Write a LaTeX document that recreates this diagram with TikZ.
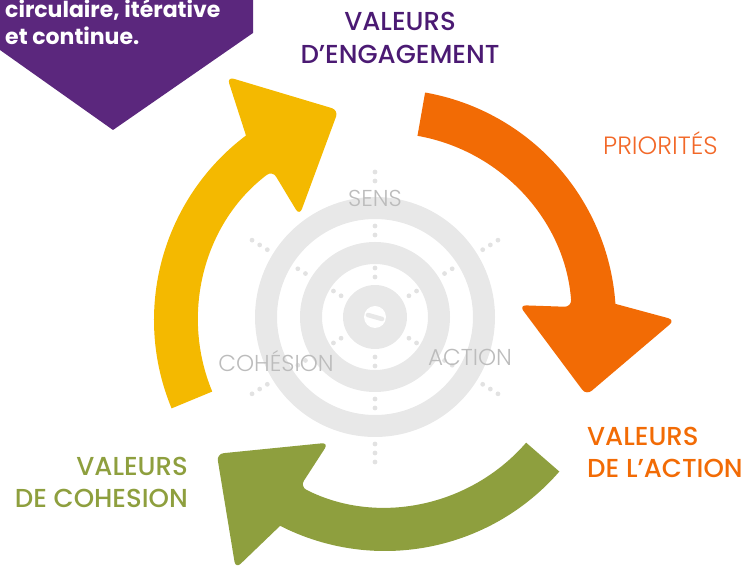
\documentclass[tikz,border=0pt]{standalone}
\usepackage{fontspec}
\setmainfont{Poppins}
\newfontfamily\popmedium{Poppins Medium}
\newfontfamily\poplight{Poppins Light}
\usetikzlibrary{positioning}

\definecolor{bannerpurple}{RGB}{91,39,125}
\definecolor{engagepurple}{RGB}{75,26,115}
\definecolor{cycleyellow}{RGB}{244,185,0}
\definecolor{cycleorange}{RGB}{242,107,5}
\definecolor{prioorange}{RGB}{242,104,40}
\definecolor{cyclegreen}{RGB}{142,159,62}
\definecolor{ringgray}{RGB}{232,232,232}
\definecolor{dotgray}{RGB}{226,226,226}
\definecolor{textgray}{RGB}{188,188,188}

\tikzset{
  valeurs/.style={font=\popmedium\fontsize{26}{32}\selectfont, inner sep=0pt, text=#1},
  pillar/.style={font=\poplight\fontsize{23}{27}\selectfont, inner sep=0pt, text=textgray},
  ring/.style={draw=ringgray, line width=22},
  tinydot/.style={fill=dotgray},
}

% thick arc arrow: colour, tail angle, end of shaft
\newcommand{\cyclearrow}[3]{%
  \fill[#1] (#2:231) arc[start angle=#2, end angle=#3, radius=231]
    [rounded corners=7] -- ({#3-4}:290) -- ({#3-24.5}:215) -- ({#3+2.3}:135)
    -- (#3:187) [sharp corners] arc[start angle=#3, end angle=#2, radius=187] -- cycle;
}

\begin{document}
\begin{tikzpicture}[x=1pt,y=1pt]
\useasboundingbox (0,0) rectangle (745,570);
\clip (0,0) rectangle (745,570);

% target
\begin{scope}[shift={(375,253)}]
\draw[ring] (0,0) circle (109);
\draw[ring] (0,0) circle (64);
\fill[ringgray] (0,0) circle (32);
\fill[white] (0,0) circle (11);
\draw[ringgray, line width=4.5, line cap=round] (-7,2) -- (7,-2);
\foreach \a in {32,148,212,270,328}
  \foreach \r in {40,49,82,91,127,136,145}
    \fill[tinydot] (\a:\r) circle (2.4);
\foreach \r in {40,49,82,91,136,145}
  \fill[tinydot] (90:\r) circle (2.4);
\end{scope}

\node[pillar] (sens) at (375,372) {SENS};
\node[pillar] (action) at (470,213) {ACTION};
\node[pillar] (cohesion) at (276,209) {COHÉSION};

% the three arrows
\begin{scope}[shift={(385,250)}]
\cyclearrow{cycleorange}{80}{4}
\cyclearrow{cycleyellow}{202.5}{127}
\cyclearrow{cyclegreen}{319}{243}
\end{scope}

% banner
\fill[bannerpurple] (0,570) -- (253,570) -- (253,537) -- (113,440) -- (0,520) -- cycle;
\node[anchor=south west, inner sep=0pt, align=left, text=white,
  font=\bfseries\fontsize{22}{27}\selectfont] (banner) at (5,525)
  {circulaire, itérative\\et continue.};

% labels
\node[valeurs=engagepurple, font=\popmedium\fontsize{26}{33}\selectfont, align=center]
  (engagement) at (400,532) {VALEURS\\D’ENGAGEMENT};
\node[anchor=base west, inner sep=0pt, text=prioorange,
  font=\poplight\fontsize{25}{30}\selectfont] (priorites) at (603,415) {PRIORITÉS};
\node[valeurs=cycleorange, anchor=west, align=left] (action-values) at (587,117.5)
  {VALEURS\\DE L’ACTION};
\node[valeurs=cyclegreen, anchor=east, align=right] (cohesion-values) at (188,88)
  {VALEURS\\DE COHESION};

\end{tikzpicture}
\end{document}
